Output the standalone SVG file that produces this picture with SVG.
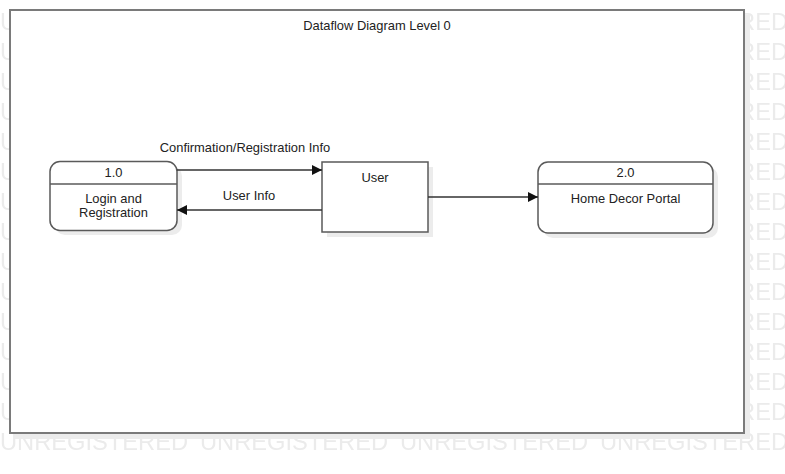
<svg xmlns="http://www.w3.org/2000/svg" width="785" height="474" viewBox="0 0 785 474">
<defs>
<style>
.wm{font-family:"Liberation Sans",Arial,sans-serif;font-size:24px;fill:#ebebeb;}
.t{font-family:"Liberation Sans",Arial,sans-serif;font-size:12.9px;fill:#222;text-anchor:middle;}
.node{fill:#fff;stroke:#5a5a5a;stroke-width:1.5;}
.shadow{fill:#ececec;}
.div{stroke:#5a5a5a;stroke-width:1.5;}
.flow{stroke:#333;stroke-width:1.5;fill:none;marker-end:url(#arr);}
</style>
<marker id="arr" viewBox="0 0 10 10" refX="10" refY="5" markerWidth="11" markerHeight="10" markerUnits="userSpaceOnUse" orient="auto">
<path d="M0,0 L10,5 L0,10 z" fill="#111"/>
</marker>
<pattern id="wmp" x="0" y="0" width="200" height="30" patternUnits="userSpaceOnUse">
<text class="wm" x="0" y="30" textLength="188" lengthAdjust="spacingAndGlyphs">UNREGISTERED</text>
</pattern>
</defs>
<rect x="0" y="0" width="785" height="474" fill="#fff"/>
<rect x="0" y="0" width="785" height="456" fill="url(#wmp)"/>
<g id="frame">
<rect class="shadow" x="15" y="15" width="735" height="424"/>
<rect x="10" y="10" width="734" height="423" fill="#fff" stroke="#7a7a7a" stroke-width="2"/>
<text class="t" x="377" y="30">Dataflow Diagram Level 0</text>
</g>
<g id="n1">
<rect class="shadow" x="55" y="166" width="127" height="69" rx="10"/>
<rect class="node" x="50" y="161.5" width="127" height="69" rx="10"/>
<line class="div" x1="50" y1="184" x2="177" y2="184"/>
<text class="t" x="113.5" y="177">1.0</text>
<text class="t" x="113.5" y="203">Login and</text>
<text class="t" x="113.5" y="217">Registration</text>
</g>
<g id="user">
<rect class="shadow" x="327" y="167" width="106" height="70"/>
<rect class="node" x="322" y="162" width="106" height="70"/>
<text class="t" x="375" y="182">User</text>
</g>
<g id="n2">
<rect class="shadow" x="543" y="167" width="175" height="71" rx="10"/>
<rect class="node" x="538" y="162" width="175" height="71" rx="10"/>
<line class="div" x1="538" y1="184" x2="713" y2="184"/>
<text class="t" x="625.5" y="177">2.0</text>
<text class="t" x="625.5" y="203">Home Decor Portal</text>
</g>
<g id="connectors">
<line class="flow" x1="177" y1="170" x2="322" y2="170"/>
<text class="t" x="245" y="152">Confirmation/Registration Info</text>
<line class="flow" x1="322" y1="210" x2="177" y2="210"/>
<text class="t" x="249" y="200">User Info</text>
<line class="flow" x1="428" y1="197" x2="538" y2="197"/>
</g>
</svg>
